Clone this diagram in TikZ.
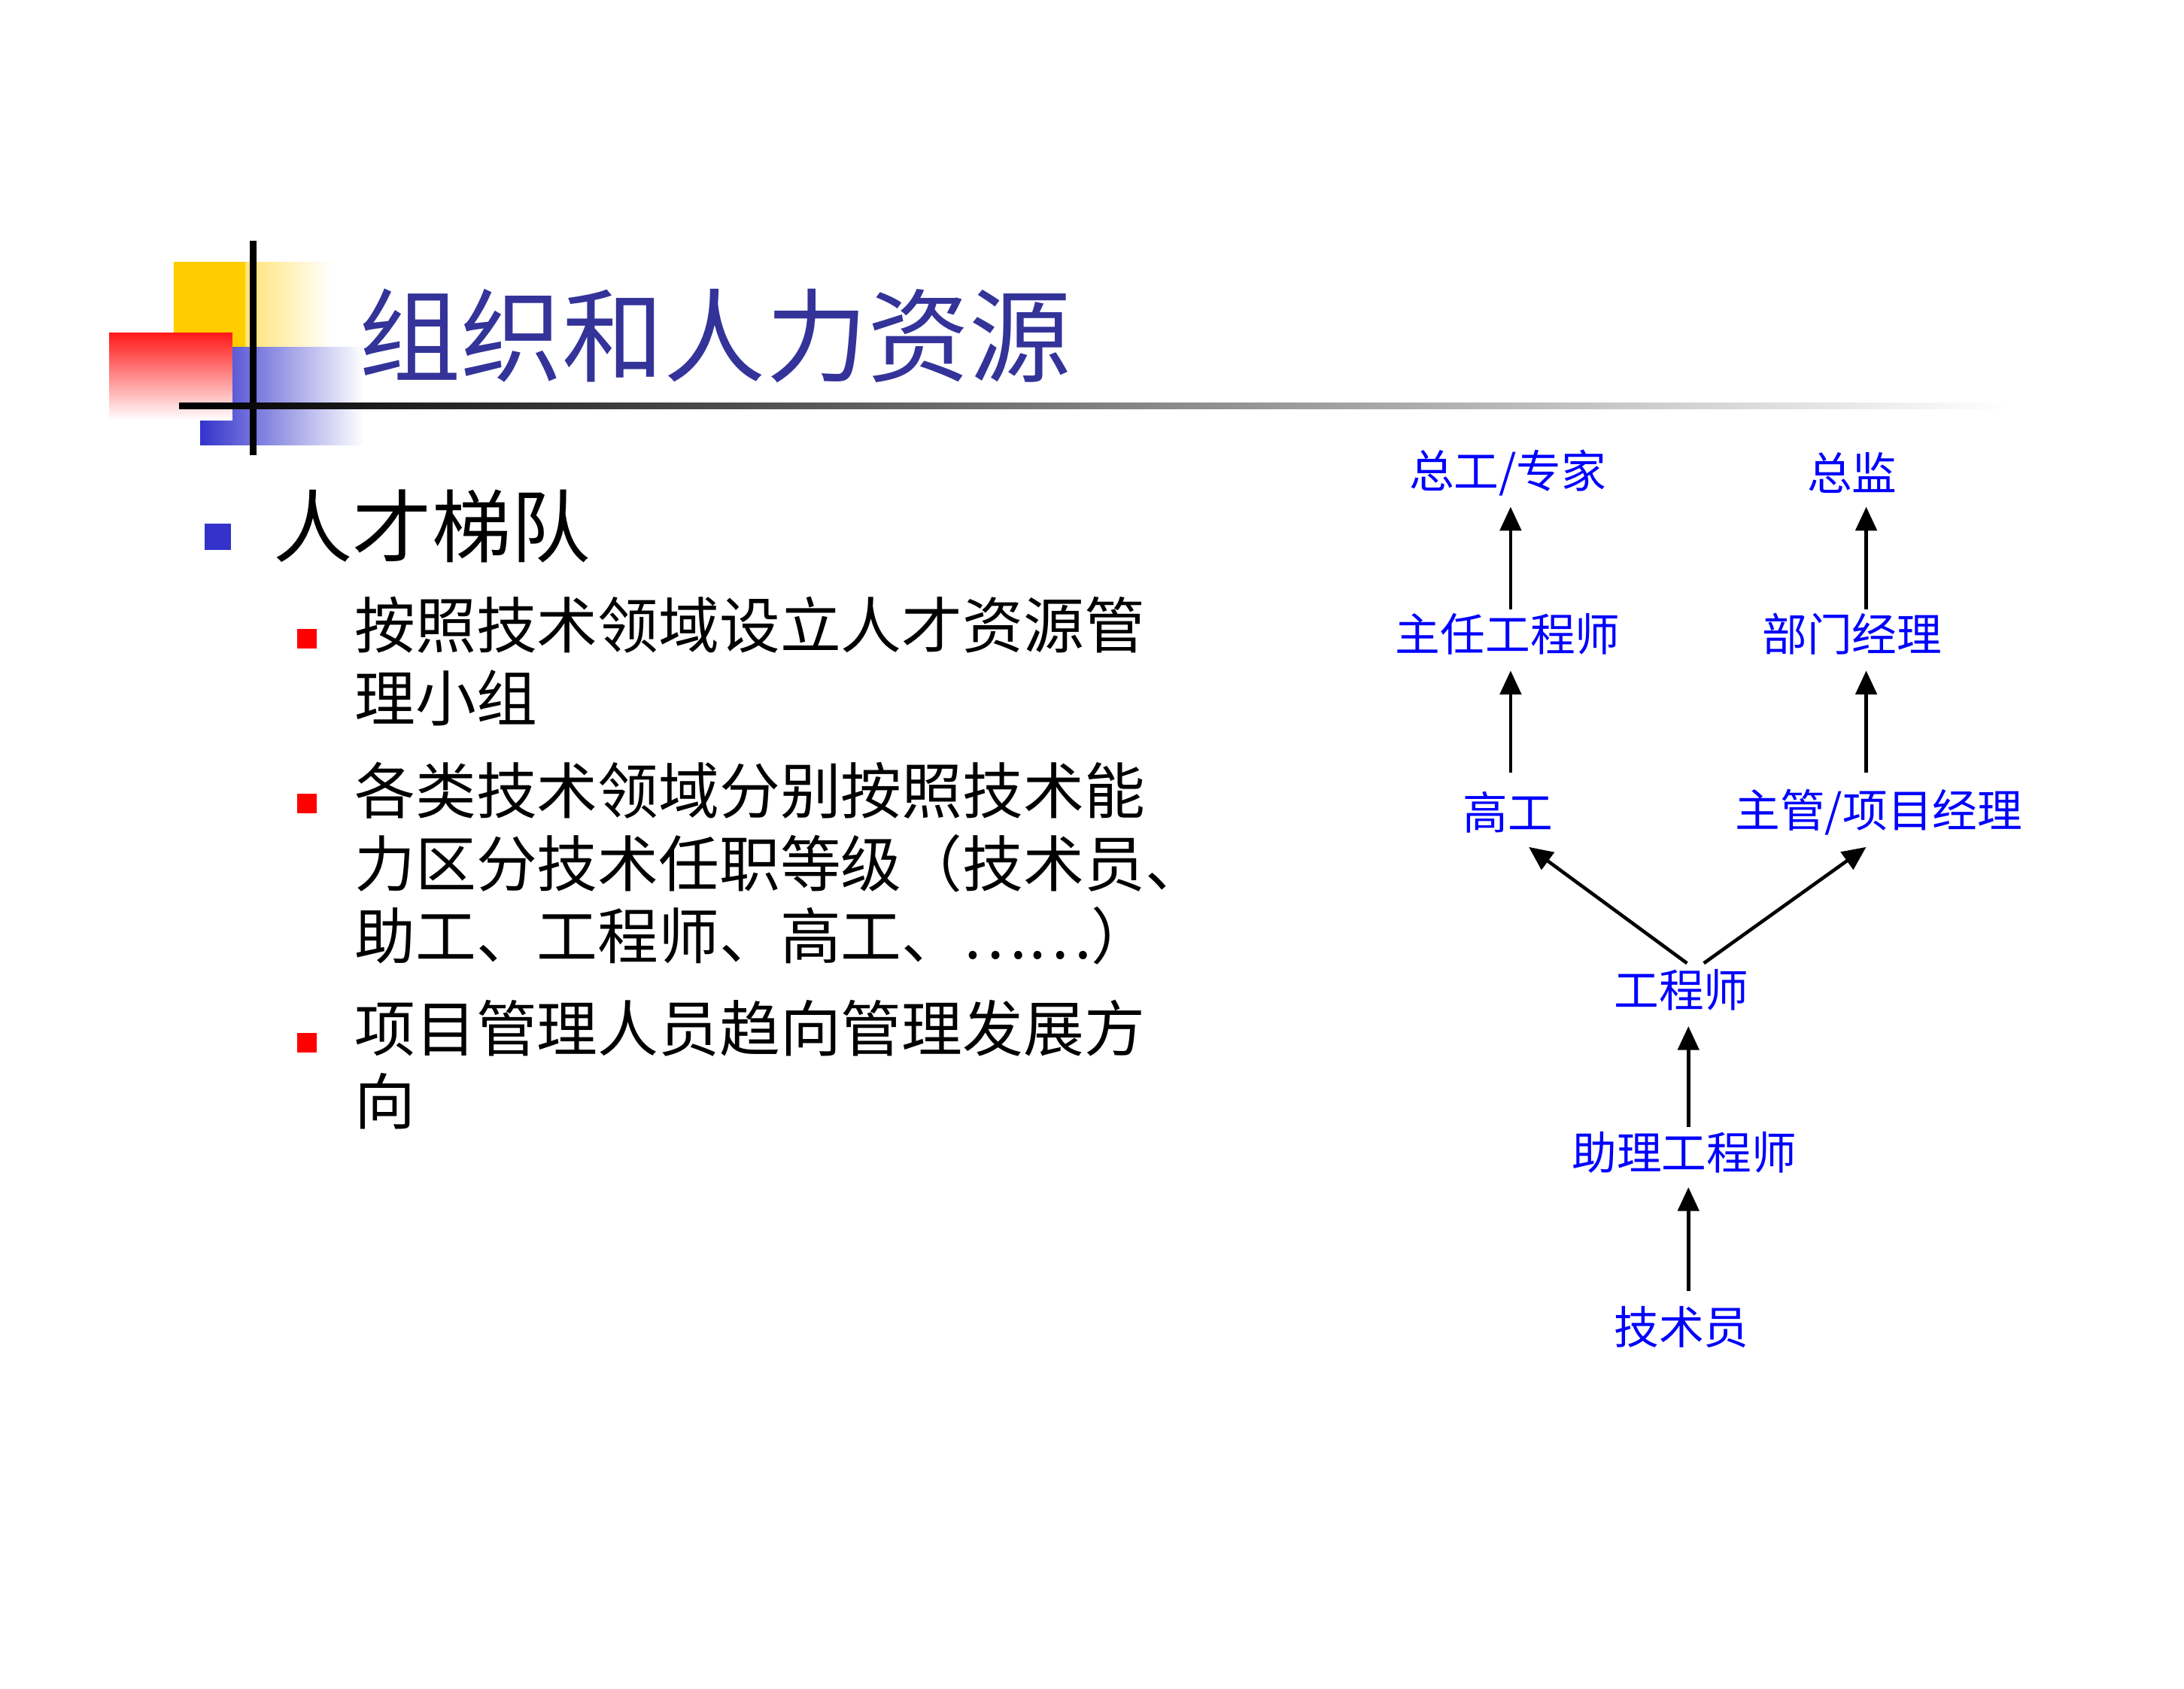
\documentclass[tikz,border=0pt]{standalone}
\usepackage{fontspec}
\setmainfont{Noto Sans CJK SC}
\newfontfamily\cjk{Noto Sans CJK SC}
\usetikzlibrary{arrows.meta}
\definecolor{ttl}{RGB}{51,51,153}
\definecolor{bl}{RGB}{51,51,204}
\definecolor{gold}{RGB}{255,204,0}
\begin{document}
\begin{tikzpicture}[x=0.01861cm,y=-0.01861cm,
  lvl/.style={text=blue,font=\cjk\fontsize{17}{20}\selectfont,inner sep=1pt},
  up/.style={-{Triangle[length=9pt,width=8pt]},line width=1.3pt},
  body/.style={anchor=north west,font=\cjk\fontsize{23}{27.5}\selectfont,align=left,inner sep=0pt}]
\useasboundingbox (0,0) rectangle (1560,1206);
\fill[white] (0,0) rectangle (1560,1206);
% logo
\shade[left color=gold,right color=white] (124,187) rectangle (237,290);
\fill[gold] (124,187) rectangle (175,290);
\shade[left color=bl,right color=white] (143,248) rectangle (260,318);
\shade[shading angle=45,top color=red!90,bottom color=white] (78,238) rectangle (166,300);
\draw[line width=2.5pt] (181,172) -- (181,325);
\shade[left color=black,right color=white] (128,288) rectangle (1435,292);
\node[anchor=west,text=ttl,font=\cjk\fontsize{38.5}{40}\selectfont,inner sep=0pt] (title) at (256,240) {组织和人力资源};
% bullets
\fill[bl] (146,374) rectangle (165,393);
\node[anchor=west,font=\cjk\fontsize{30}{32}\selectfont,inner sep=0pt] (h) at (195,376) {人才梯队};
\foreach \y in {456,574,745}{\fill[red] (212,\y-7) rectangle (226,\y+7);}
\node[body] (b1) at (253,426) {按照技术领域设立人才资源管\\理小组};
\node[body] (b2) at (253,544) {各类技术领域分别按照技术能\\力区分技术任职等级（技术员、\\助工、工程师、高工、……）};
\node[body] (b3) at (253,714) {项目管理人员趋向管理发展方\\向};
% diagram
\node[lvl] (zg) at (1077,338) {总工/专家};
\node[lvl] (zj) at (1323,338) {总监};
\node[lvl] (zr) at (1077,453) {主任工程师};
\node[lvl] (bm) at (1323,453) {部门经理};
\node[lvl] (gg) at (1077,580) {高工};
\node[lvl] (zx) at (1342,580) {主管/项目经理};
\node[lvl] (gcs) at (1201,707) {工程师};
\node[lvl] (zl) at (1203,823) {助理工程师};
\node[lvl] (js) at (1201,948) {技术员};
\draw[up] (1079,435) -- (1079,362);
\draw[up] (1079,552) -- (1079,479);
\draw[up] (1333,435) -- (1333,362);
\draw[up] (1333,552) -- (1333,479);
\draw[up] (1205,688) -- (1092,605);
\draw[up] (1217,688) -- (1333,605);
\draw[up] (1206,805) -- (1206,733);
\draw[up] (1206,922) -- (1206,848);
\end{tikzpicture}
\end{document}
